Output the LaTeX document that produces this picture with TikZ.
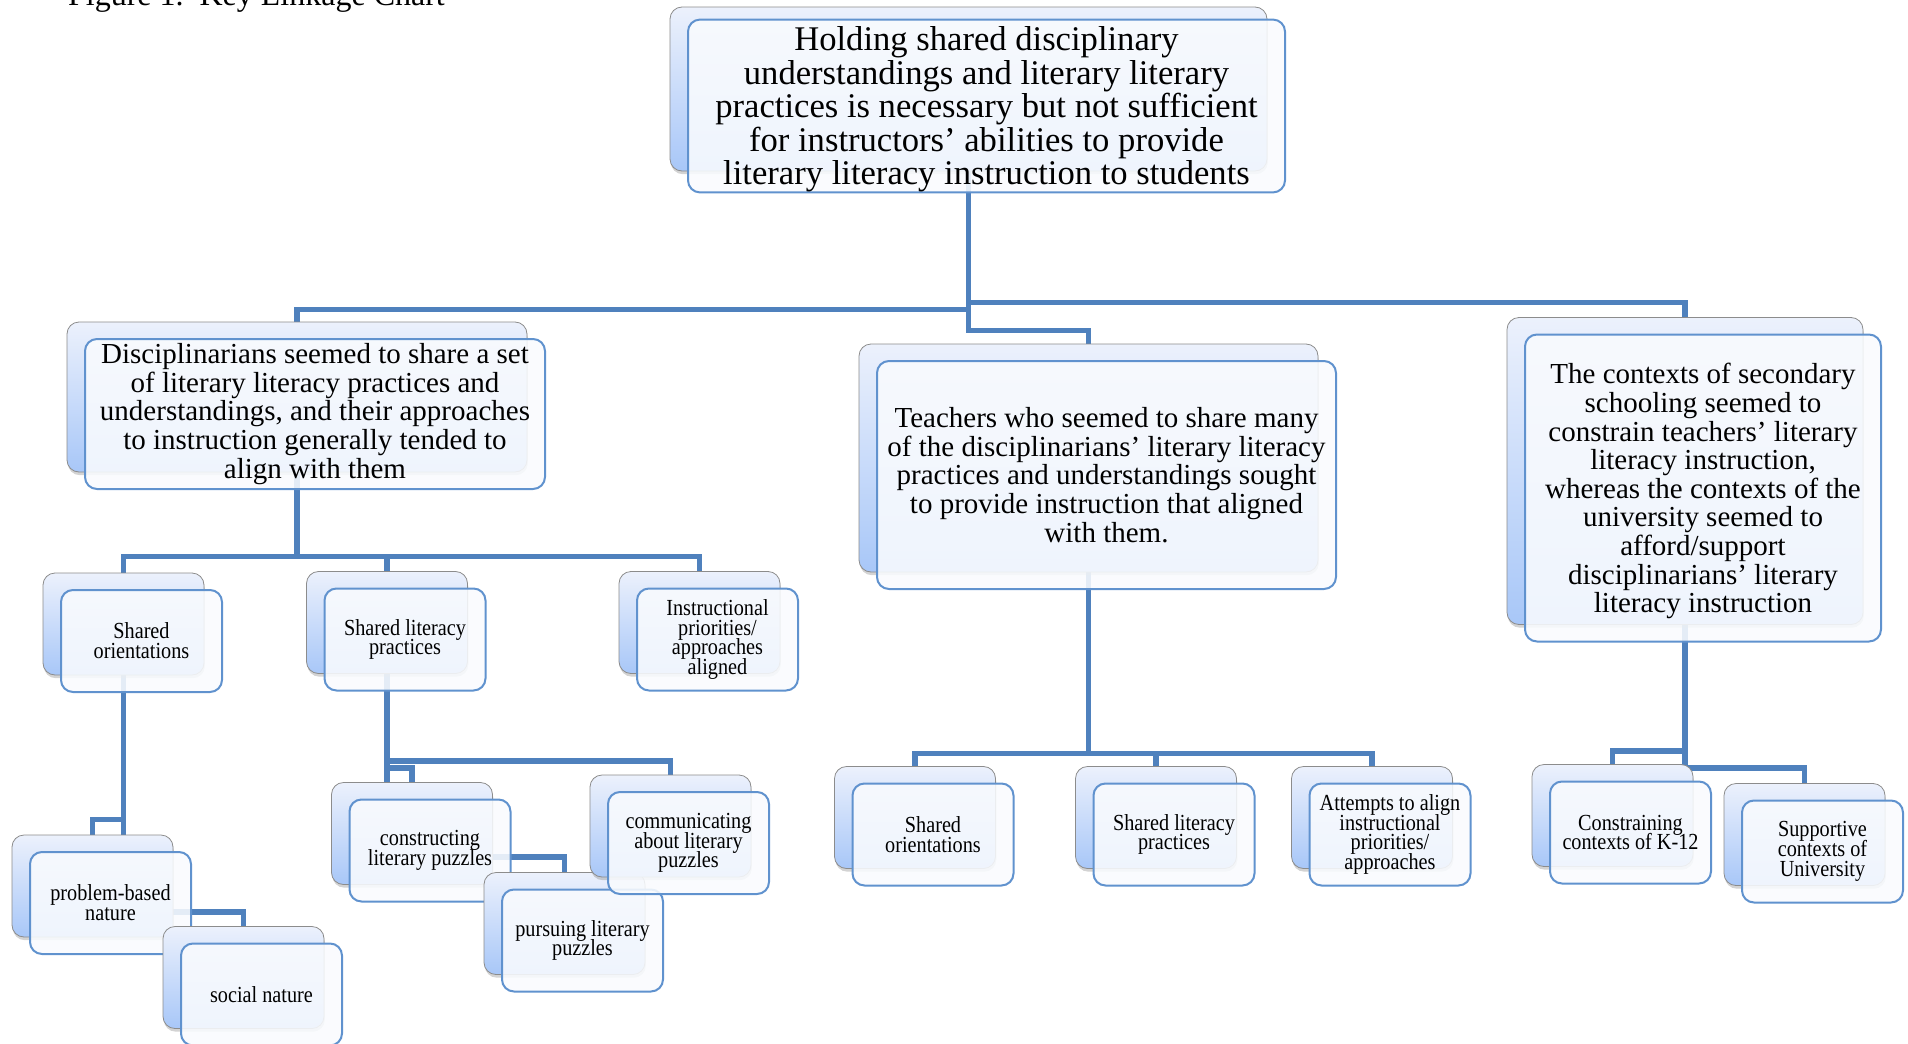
\documentclass[tikz,border=0pt]{standalone}
\usepackage{fontspec}
\setmainfont{Liberation Serif}
\newfontfamily\narrowserif[FakeStretch=0.88]{Liberation Serif}
\usetikzlibrary{shadows,backgrounds}
\definecolor{linkblue}{RGB}{79,129,189}
\definecolor{frontline}{RGB}{96,146,206}
\definecolor{backline}{RGB}{140,140,140}
\definecolor{backtop}{RGB}{236,241,252}
\definecolor{backbot}{RGB}{168,199,248}
\definecolor{frontfill}{RGB}{249,251,254}
\newcommand\topfont{\fontsize{17.3}{16.8}\selectfont\lineskiplimit=-10pt}
\newcommand\midfont{\fontsize{14.5}{14.3}\selectfont\lineskiplimit=-10pt}
\newcommand\boxfont{\narrowserif\fontsize{11.5}{9.9}\selectfont\lineskiplimit=-10pt}

\begin{document}
\begin{tikzpicture}[x=.5pt,y=-.5pt,
    back/.style={draw=backline,rounded corners=6pt,top color=backtop,bottom color=backbot,
      drop shadow={shadow xshift=.4pt,shadow yshift=-1.6pt,opacity=.35}},
    front/.style={draw=frontline,line width=1pt,rounded corners=6pt,fill=frontfill,
      fill opacity=.88,text opacity=1,align=center,inner sep=0pt},
    link/.style={draw=linkblue,line width=2.6pt}]
  \useasboundingbox (0,0) rectangle (1908,1044);
  \node[anchor=base west,font=\fontsize{16}{18}\selectfont] (cap) at (61,5) {Figure 1.\ \ Key Linkage Chart};
  % cards: back box is the named node, the text sits on the front copy
  \foreach \n/\x/\y/\w/\h/\f/\t in {%
    top/968.5/89/597/164/\topfont/{\rule{0pt}{15.5pt}Holding shared disciplinary\\understandings and literary literary\\practices is necessary but not sufficient\\for instructors’ abilities to provide\\literary literacy instruction to students},
    dis/297/397/460/150/\midfont/{Disciplinarians seemed to share a set\\of literary literacy practices and\\understandings, and their approaches\\to instruction generally tended to\\align with them},
    tea/1088.5/458/459/228/\midfont/{Teachers who seemed to share many\\of the disciplinarians' literary literacy\\practices and understandings sought\\to provide instruction that aligned\\with them.},
    con/1685/471/356/307/\midfont/{\rule{0pt}{13.5pt}The contexts of secondary\\schooling seemed to\\constrain teachers’ literary\\literacy instruction,\\whereas the contexts of the\\university seemed to\\afford/support\\disciplinarians’ literary\\literacy instruction},
    so1/123.5/624/161/102/\boxfont/{Shared\\orientations},
    slp1/387/622.5/161/102/\boxfont/{Shared literacy\\practices},
    ipa/699.5/622.5/161/102/\boxfont/{Instructional\\priorities/\\approaches\\aligned},
    pbn/92.5/886/161/102/\boxfont/{problem-based\\nature},
    soc/243.5/977.5/161/102/\boxfont/{social nature},
    cons/412/833.5/161/102/\boxfont/{constructing\\literary puzzles},
    purs/564.5/923.5/161/102/\boxfont/{pursuing literary\\puzzles},
    comm/670.5/826/161/102/\boxfont/{communicating\\about literary\\puzzles},
    so2/915/817.5/161/102/\boxfont/{Shared\\orientations},
    slp2/1156/817.5/161/102/\boxfont/{Shared literacy\\practices},
    att/1372/817.5/161/102/\boxfont/{Attempts to align\\instructional\\priorities/\\approaches},
    k12/1612.5/815.5/161/102/\boxfont/{Constraining\\contexts of K-12},
    sup/1804.5/834.5/161/102/\boxfont/{Supportive\\contexts of\\University}}{%
    \node[back,minimum width=\w*.5pt,minimum height=\h*.5pt] (\n) at (\x,\y) {};
    \node[front,minimum width=\w*.5pt,minimum height=\h*.5pt,font=\f] (\n-t) at ([shift={(18,17)}]\n.center) {\t};
  }
  \begin{scope}[on background layer]
    \draw[link] (top.south) -- ++(0,138) -| (dis.north);
    \draw[link] (top.south) -- ++(0,131) -| (con.north);
    \draw[link] (top.south) -- ++(0,159) -| (tea.north);
    \foreach \c in {so1,slp1,ipa} \draw[link] (dis.south) -- ++(0,84) -| (\c.north);
    \draw[link] (so1.south) -- (so1.south |- pbn.north);
    \draw[link] (so1.south) -- ++(0,144) -| (pbn.north);
    \draw[link] ([yshift=-13pt]pbn.east) -| (soc.north);
    \draw[link] (slp1.south) -- (slp1.south |- cons.north);
    \draw[link] (slp1.south) -- ++(0,94) -| (cons.north);
    \draw[link] (slp1.south) -- ++(0,87) -| (comm.north);
    \draw[link] ([yshift=-11.75pt]cons.east) -| (purs.north);
    \foreach \c in {so2,slp2,att} \draw[link] (tea.south) -- ++(0,181) -| (\c.north);
    \draw[link] (con.south) -- ++(0,126) -| (k12.north);
    \draw[link] (con.south) -- ++(0,143) -| (sup.north);
  \end{scope}
\end{tikzpicture}
\end{document}
